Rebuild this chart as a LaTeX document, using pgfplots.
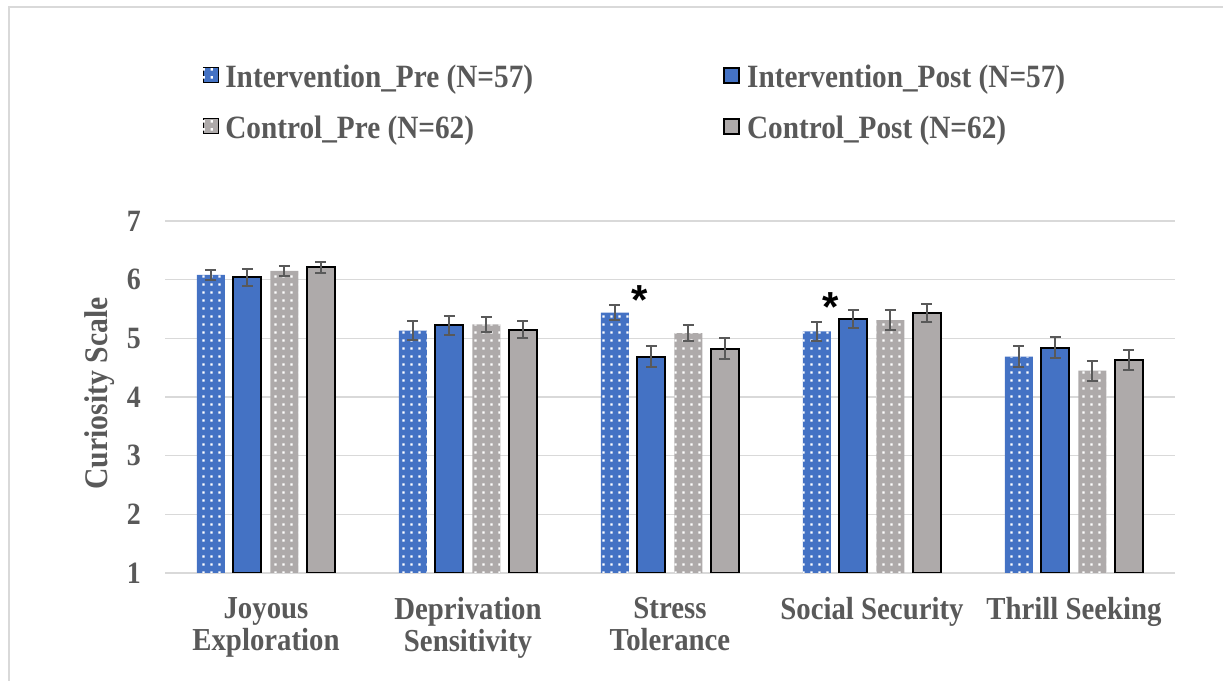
\documentclass[border=0pt]{standalone}
\usepackage{fontspec}
\setmainfont{Liberation Serif}[FakeStretch=0.9]
\newfontfamily\astfont{Liberation Sans}
\usepackage{pgfplots}
\usepackage{pgfplotstable}
\pgfplotsset{compat=1.18}
\usetikzlibrary{patterns}
\definecolor{ablue}{HTML}{4472C4}
\definecolor{agray}{HTML}{AEAAAA}
\definecolor{tgray}{HTML}{595959}
\definecolor{gridc}{HTML}{D9D9D9}
\definecolor{errc}{HTML}{595959}
\pgfdeclarepatternformonly{wdots}{\pgfpointorigin}{\pgfpoint{8bp}{7.5bp}}{\pgfpoint{8bp}{7.5bp}}{\pgfpathrectangle{\pgfpoint{2.75bp}{2.5bp}}{\pgfpoint{2.5bp}{2.5bp}}\pgfusepath{fill}}

\pgfplotstableread{
x y e
0 6.08 0.09
1 5.13 0.16
2 5.44 0.13
3 5.12 0.16
4 4.69 0.18
}\intpre
\pgfplotstableread{
x y e
0 6.04 0.14
1 5.22 0.16
2 4.69 0.18
3 5.33 0.16
4 4.84 0.18
}\intpost
\pgfplotstableread{
x y e
0 6.15 0.08
1 5.24 0.13
2 5.09 0.14
3 5.31 0.17
4 4.45 0.17
}\ctrlpre
\pgfplotstableread{
x y e
0 6.21 0.09
1 5.15 0.14
2 4.82 0.18
3 5.43 0.15
4 4.63 0.17
}\ctrlpost

\pgfplotsset{
  prebar/.style={ybar, bar width=28bp, bar shift=0pt, draw=none, fill=#1, postaction={pattern=wdots, pattern color=white}},
  postbar/.style={ybar, bar width=28bp, bar shift=0pt, draw=black, line width=2bp, fill=#1},
  errs/.style={error bars/.cd, y dir=both, y explicit,
     error bar style={line width=2bp, color=errc, solid},
     error mark options={rotate=90, mark size=5.5bp, line width=2bp, color=errc}},
}

\begin{document}
\begin{tikzpicture}
\useasboundingbox (0,0) rectangle (1223bp,681bp);
\draw[gridc, line width=2bp] (9bp,0) -- (9bp,673.5bp) -- (1223bp,673.5bp);
\begin{axis}[
  at={(165bp,108bp)}, anchor=south west,
  scale only axis, width=1010bp, height=352bp,
  xmin=-0.5, xmax=4.5, ymin=1, ymax=7,
  ytick={1,2,3,4,5,6,7},
  xtick={0,1,2,3,4},
  xticklabels={{Joyous\\Exploration},{Deprivation\\Sensitivity},{Stress\\Tolerance},{Social Security},{Thrill Seeking}},
  /pgf/number format/assume math mode=true,
  axis line style={draw=none},
  major tick length=0pt,
  ymajorgrids, grid style={gridc, line width=1.5bp},
  yticklabel style={font=\fontsize{31bp}{31bp}\selectfont\bfseries, text=tgray, anchor=east, inner sep=0pt, xshift=-24bp},
  xticklabel style={font=\fontsize{32bp}{32.3bp}\selectfont\bfseries, text=tgray, align=center, anchor=north, inner sep=0pt, yshift=-24bp},
  ylabel={Curiosity Scale},
  every axis y label/.style={at={(axis description cs:-0.0644,0.51)}, rotate=90, anchor=center, font=\fontsize{33bp}{33bp}\selectfont\bfseries, text=tgray},
  legend columns=2,
  legend cell align=left,
  legend style={at={(0.0376,1.4446)}, anchor=north west, draw=none, fill=none, inner sep=0pt, outer sep=0pt,
     font=\fontsize{32.5bp}{32.5bp}\selectfont\bfseries, text=tgray, row sep=27bp,
     nodes={inner sep=0pt},
     /tikz/every odd column/.append style={column sep=7bp},
     /tikz/every even column/.append style={column sep=190bp}},
  legend image code/.code={\draw[#1] (0bp,-6bp) rectangle (15bp,9bp);},
]
\addplot[prebar=ablue, errs] table[x expr=\thisrow{x}-0.2723, y=y, y error=e] {\intpre};
\addlegendentry{Intervention\_Pre (N=57)}
\addplot[postbar=ablue, errs] table[x expr=\thisrow{x}-0.0916, y=y, y error=e] {\intpost};
\addlegendentry{Intervention\_Post (N=57)}
\addplot[prebar=agray, errs] table[x expr=\thisrow{x}+0.0916, y=y, y error=e] {\ctrlpre};
\addlegendentry{Control\_Pre (N=62)}
\addplot[postbar=agray, errs] table[x expr=\thisrow{x}+0.2723, y=y, y error=e] {\ctrlpost};
\addlegendentry{Control\_Post (N=62)}
\node[anchor=north, inner sep=0pt, font=\astfont\fontsize{42bp}{42bp}\selectfont\bfseries, xshift=-30bp] at (axis cs:2,5.91) {*};
\node[anchor=north, inner sep=0pt, font=\astfont\fontsize{42bp}{42bp}\selectfont\bfseries, xshift=-41bp] at (axis cs:3,5.79) {*};
\end{axis}
\end{tikzpicture}
\end{document}
